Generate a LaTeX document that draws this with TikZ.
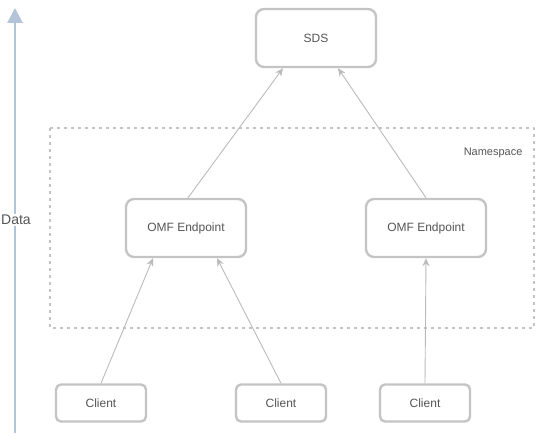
\documentclass[tikz,border=0pt]{standalone}
\usepackage{fontspec}
\setmainfont{Liberation Sans}
\usetikzlibrary{arrows.meta}
\definecolor{boxgray}{HTML}{C4C4C4}
\definecolor{linegray}{HTML}{BBBBBB}
\definecolor{textgray}{HTML}{555555}
\definecolor{databl}{HTML}{B3C3D8}
\begin{document}
\begin{tikzpicture}[x=1pt,y=-1pt,line join=round,font=\fontsize{12}{14}\selectfont,text=textgray,
		bigbox/.style={draw=boxgray,line width=2.4pt,rounded corners=8pt,minimum width=120pt,minimum height=58pt,fill=white},
		clientbox/.style={draw=boxgray,line width=2.4pt,rounded corners=5pt,minimum width=90pt,minimum height=37pt,fill=white},
		flow/.style={draw=linegray,line width=0.9pt,-{Stealth[length=8pt,width=7pt]}}]
	\useasboundingbox (0,0) rectangle (546,438);
	% data direction
	\coordinate (dlow) at (15,433);
	\coordinate (dtop) at (15,8);
	\draw[databl,line width=2.8pt,-{Triangle[length=15pt,width=15pt]}] (dlow)--(dtop);
	\node[fill=white,inner sep=1pt,font=\fontsize{14}{16}\selectfont] (data) at (16,220) {Data};
	% namespace
	\draw[boxgray,line width=2.6pt,dash pattern=on 3pt off 4pt] (50,128) rectangle (534,328);
	\node[anchor=east,font=\fontsize{11}{13}\selectfont] (ns) at (526,153) {Namespace};
	% boxes
	\node[bigbox] (sds) at (316,38) {SDS};
	\node[bigbox] (omfl) at (186,228) {OMF Endpoint};
	\node[bigbox] (omfr) at (426,228) {OMF Endpoint};
	\node[clientbox] (cla) at (101,403) {Client};
	\node[clientbox] (clb) at (281,403) {Client};
	\node[clientbox] (clc) at (425,403) {Client};
	% connectors
	\draw[flow] ([xshift=2pt]omfl.north)--([xshift=-33pt]sds.south);
	\draw[flow] (omfr.north)--([xshift=22pt]sds.south);
	\draw[flow] (cla.north)--([xshift=-33pt]omfl.south);
	\draw[flow] (clb.north)--([xshift=31pt]omfl.south);
	\draw[flow] (clc.north)--(omfr.south);
\end{tikzpicture}
\end{document}
